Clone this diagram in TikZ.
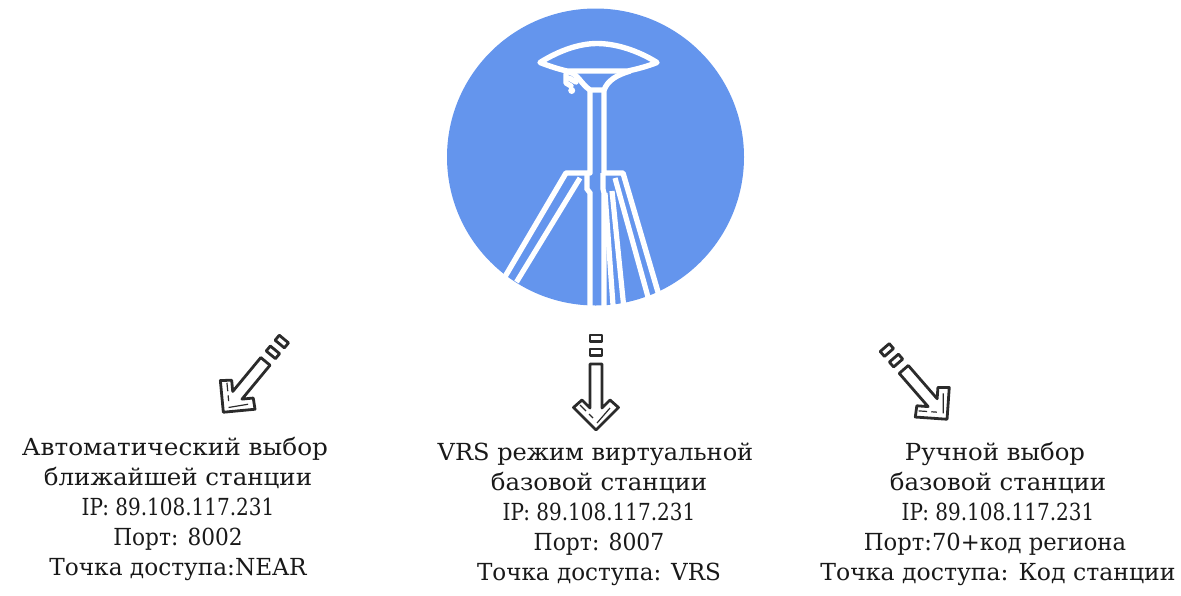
\documentclass[tikz,border=0pt]{standalone}
\usepackage{fontspec}
\setmainfont{DejaVu Serif}
\usetikzlibrary{calc}
\definecolor{dishblue}{HTML}{6495ED}
\definecolor{inkgray}{HTML}{2B2B2B}
\newcommand{\fitw}[2]{{\addfontfeature{FakeStretch=#1}#2}}
\tikzstyle{mast} = [draw=white,line width=5.4pt,line join=round,line cap=round]
\tikzstyle{leg} = [draw=white,line width=5.2pt]
\tikzstyle{outline} = [draw=inkgray,line width=2.8pt,line join=round]
\tikzstyle{glint} = [draw=inkgray,line width=1.2pt]
\tikzstyle{station} = [align=center,text=black!90,font=\fontsize{23.5}{30}\selectfont,inner sep=0pt]
\tikzset{pics/pointer/.style={code={
    \draw[outline] (-6,-96) rectangle (6,-89.5);
    \draw[outline] (-6,-82) rectangle (6,-75.5);
    \draw[outline] (-6,-67) -- (-6,-23) -- (-14,-31) -- (-22.5,-23.5) -- (0,-1)
        -- (22.5,-23.5) -- (14,-31) -- (6,-23) -- (6,-67) -- cycle;
    \draw[glint] (-16,-26) -- (-10,-20);
    \draw[glint] (-7,-17) -- (-3,-13);
    \draw[glint] (1,-8) -- (14,-23);
}}}

\begin{document}
\begin{tikzpicture}[x=1pt,y=-1pt]
    \useasboundingbox (0,0) rectangle (1181,595);
    % First we draw the disc
    \fill[dishblue] (595.5,157) circle (148.5);

    % Antenna head
    \path[mast] (540,62.5) .. controls (560,50) and (580,43.5) .. (597,43.5)
        .. controls (615,43.5) and (637,50) .. (657,62.5)
        .. controls (647,66.5) and (637,69) .. (628,71) -- (567,71)
        .. controls (558,69) and (549,66) .. (540,62.5) -- cycle;
    \path[mast] (569,72) .. controls (578,74) and (581,84) .. (590,90) -- (604,90)
        .. controls (608,80) and (617,75) .. (630,71);
    \path[mast] (566,74) -- (566,83) -- (571,86);
    \path[mast] (569,78) -- (576,82);
    \fill[white] (571.7,90.5) circle (3.5);

    % Mast and collar
    \path[mast] (590,90) -- (590,173) -- (566,173) -- (506,275);
    \path[mast] (604,90) -- (604,173) -- (623,173) -- (658,292);
    \path[leg] (580,178) -- (516.5,282);
    \path[leg] (587,173) -- (587,189) -- (590,193) -- (590,306);
    \path[leg] (603,173) -- (603,189) -- (604,193) -- (604,306);
    \path[leg] (605,193) -- (613,305);
    \path[leg] (612,191) -- (623.5,304);
    \path[leg] (615,178) -- (648,297);

    % Arrows towards the stations
    \pic[rotate=-39.6] at (222.7,413) {pointer};
    \pic at (596,431) {pointer};
    \pic[rotate=41] at (947.7,420) {pointer};

    % Text under the arrows
    \node[station] (near) at (178,508.5) {\fitw{1.054}{Автоматический выбор}\kern6pt\\ \fitw{1.043}{ближайшей станции}\\ \fitw{.851}{IP: 89.108.117.231}\\ \fitw{.922}{Порт: 8002}\\ \fitw{.989}{Точка доступа:NEAR}};
    \node[station] (vrs) at (599,514) {\fitw{1.024}{VRS режим виртуальной}\kern7pt\\ \fitw{1.04}{базовой станции}\\ \fitw{.851}{IP: 89.108.117.231}\\ \fitw{.93}{Порт: 8007}\\ \fitw{.982}{Точка доступа: VRS}};
    \node[station] (manual) at (998,514) {\fitw{1.039}{Ручной выбор}\kern6pt\\ \fitw{1.04}{базовой станции}\\ \fitw{.851}{IP: 89.108.117.231}\\ \fitw{.965}{Порт:70+код региона}\kern6pt\\ \fitw{1.003}{Точка доступа: Код станции}};
\end{tikzpicture}
\end{document}
